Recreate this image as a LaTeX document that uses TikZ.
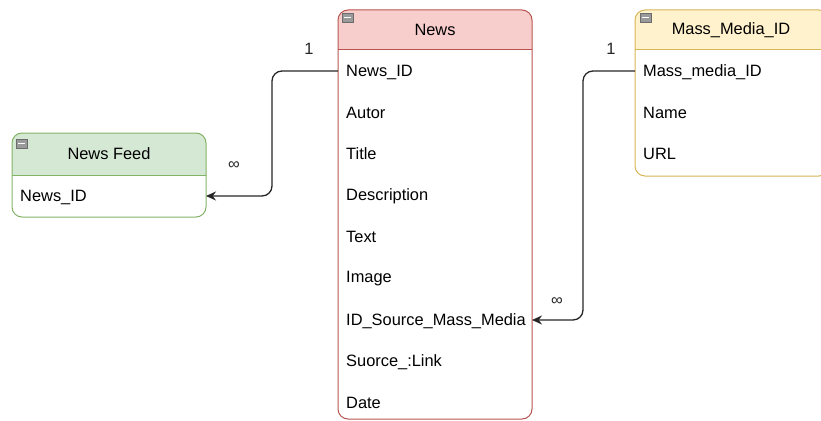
\documentclass[tikz,border=0pt]{standalone}
\usepackage{fontspec}
\setmainfont{Liberation Sans}
\usetikzlibrary{arrows.meta}
\definecolor{redfill}{HTML}{F8CECC}
\definecolor{redline}{HTML}{B85450}
\definecolor{greenfill}{HTML}{D5E8D4}
\definecolor{greenline}{HTML}{82B366}
\definecolor{yellowfill}{HTML}{FFF2CC}
\definecolor{yellowline}{HTML}{D6B656}
\definecolor{iconfill}{HTML}{9A9A9A}
\begin{document}
\begin{tikzpicture}[x=1pt,y=-1pt,
  font=\fontsize{16.4pt}{19pt}\selectfont,
  row/.style={anchor=west,inner xsep=8pt,inner ysep=0pt,text width=220pt,align=left,minimum height=20pt},
  head/.style={inner sep=0pt},
  outline/.style={line width=1pt,rounded corners=10pt},
  rel/.style={line width=1.3pt,draw=black!85,rounded corners=10pt,-{Stealth[length=10pt,width=9pt]}},
  card/.style={text=black!85},
  icon/.style={fill=iconfill,draw=iconfill!70!black,line width=0.5pt}]
\useasboundingbox (0,0) rectangle (821,420);

% ---------- News table ----------
\fill[redfill] (338,50) [rounded corners=10pt] -- (338,10) -- (532,10) [sharp corners] -- (532,50) -- cycle;
\draw[redline,outline] (338,10) rectangle (532,419);
\draw[redline,line width=1pt] (338,50) -- (532,50);
\draw[icon] (342,13) rectangle (353,22);
\draw[white,line width=1pt] (344,17.5) -- (351,17.5);
\node[head] (news) at (435,30) {News};
\node[row] (nid) at (338,72) {News\_ID};
\node[row] (autor) at (338,113) {Autor};
\node[row] (title) at (338,154) {Title};
\node[row] (desc) at (338,196) {Description};
\node[row] (text) at (338,237) {Text};
\node[row] (image) at (338,279) {Image};
\begin{scope}
\clip (338,300) rectangle (531,340);
\node[row] (idsrc) at (338,321) {ID\_Source\_Mass\_Media};
\end{scope}
\coordinate (idsrcE) at (532,320);
\node[row] (link) at (338,362) {Suorce\_:Link};
\node[row] (date) at (338,403) {Date};

% ---------- News Feed table ----------
\fill[greenfill] (12,175) [rounded corners=10pt] -- (12,133) -- (206,133) [sharp corners] -- (206,175) -- cycle;
\draw[greenline,outline] (12,133) rectangle (206,217);
\draw[greenline,line width=1pt] (12,175) -- (206,175);
\draw[icon] (16,139) rectangle (27,148);
\draw[white,line width=1pt] (18,143.5) -- (25,143.5);
\node[head] (feed) at (109,154) {News Feed};
\node[row] (fid) at (12,197) {News\_ID};
\coordinate (fidE) at (206,196);

% ---------- Mass_Media_ID table ----------
\fill[yellowfill] (635,50) [rounded corners=10pt] -- (635,10) -- (829,10) [sharp corners] -- (829,50) -- cycle;
\draw[yellowline,outline] (635,10) rectangle (829,176);
\draw[yellowline,line width=1pt] (635,50) -- (829,50);
\draw[icon] (640,13) rectangle (651,22);
\draw[white,line width=1pt] (642,17.5) -- (649,17.5);
\node[head] (media) at (731,30) {Mass\_Media\_ID};
\node[row] (mid) at (635,72) {Mass\_media\_ID};
\node[row] (mname) at (635,113) {Name};
\node[row] (murl) at (635,154) {URL};

% ---------- connectors ----------
\draw[rel] (nid.west |- 0,71) -- (272,71) |- (fidE);
\draw[rel] (mid.west |- 0,71) -- (583,71) |- (idsrcE);
\node[card] (c1) at (309,49) {1};
\node[card] (c2) at (234,166) {∞};
\node[card] (c3) at (611,49) {1};
\node[card] (c4) at (557,302) {∞};
\end{tikzpicture}
\end{document}
